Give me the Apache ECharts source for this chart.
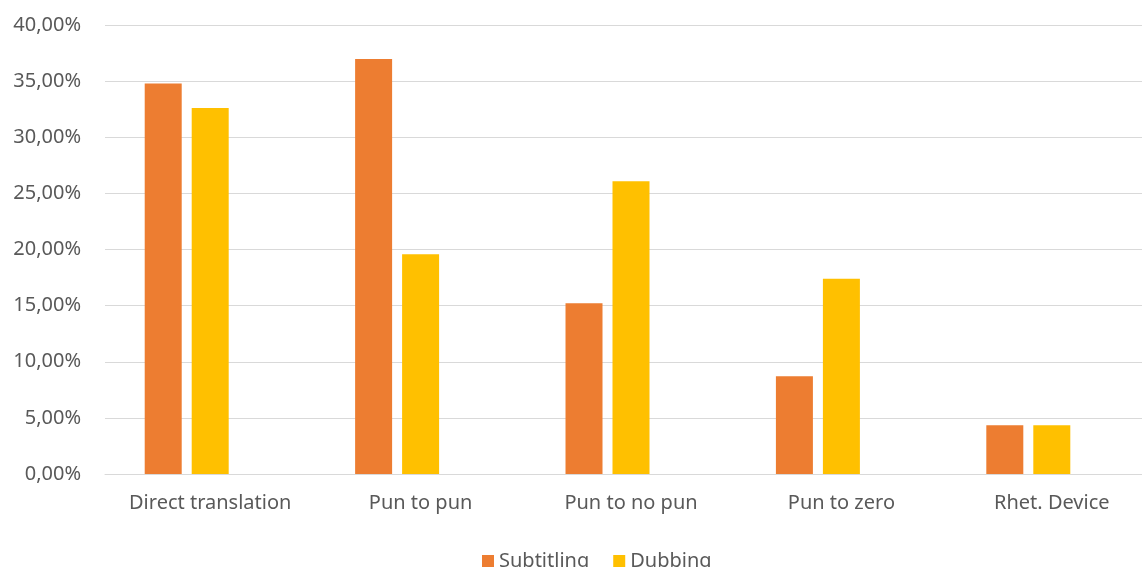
<!DOCTYPE html>
<html>
<head>
<meta charset="utf-8">
<script src="https://cdn.jsdelivr.net/npm/echarts@6/dist/echarts.min.js"></script>
<style>
  html, body { margin: 0; padding: 0; background: #fff; overflow: hidden; }
  /* the source picture is cropped on the right, so the chart is drawn a bit wider */
  #chart { width: 1157px; height: 567px; }
</style>
</head>
<body>
<div id="chart"></div>
<script>
// categories and values (percent)
const categories = ['Direct translation', 'Pun to pun', 'Pun to no pun', 'Pun to zero', 'Rhet. Device'];
const subtitling = [34.78, 36.96, 15.22, 8.70, 4.35];
const dubbing = [32.61, 19.57, 26.09, 17.39, 4.35];
// third series is empty in the source, it only reserves space in each group
const blankSeries = [null, null, null, null, null];

const textColor = '#595959';
const fontFamily = '"Noto Sans", "DejaVu Sans", sans-serif';

const fmt = v => v.toFixed(2).replace('.', ',') + '%';

const chart = echarts.init(document.getElementById('chart'));
chart.setOption({
    animation: false,
    textStyle: { fontFamily: fontFamily },
    grid: { left: 105, right: 0, top: 25, bottom: 93 },
    legend: {
        data: ['Subtitling', 'Dubbing'],
        left: 477,
        top: 546,
        itemWidth: 12,
        itemHeight: 12,
        itemGap: 24,
        icon: 'rect',
        textStyle: { color: textColor, fontSize: 20, fontFamily: fontFamily }
    },
    xAxis: {
        type: 'category',
        data: categories,
        axisLine: { lineStyle: { color: '#D9D9D9', width: 1 } },
        axisTick: { show: false },
        axisLabel: { color: textColor, fontSize: 20, margin: 19, interval: 0 }
    },
    yAxis: {
        type: 'value',
        min: 0,
        max: 40,
        interval: 5,
        axisLine: { show: false },
        axisTick: { show: false },
        splitLine: { lineStyle: { color: '#D9D9D9', width: 1 } },
        axisLabel: { color: textColor, fontSize: 20, margin: 24, formatter: fmt }
    },
    series: [
        {
            name: 'Subtitling', type: 'bar', data: subtitling,
            barWidth: 37, barGap: '27%',
            itemStyle: { color: '#ED7D31' }
        },
        {
            name: 'Dubbing', type: 'bar', data: dubbing,
            barWidth: 37, barGap: '27%',
            itemStyle: { color: '#FFC000' }
        },
        {
            name: 'blank', type: 'bar', data: blankSeries,
            barWidth: 37, barGap: '27%',
            itemStyle: { color: 'transparent' }
        }
    ]
});
</script>
</body>
</html>
